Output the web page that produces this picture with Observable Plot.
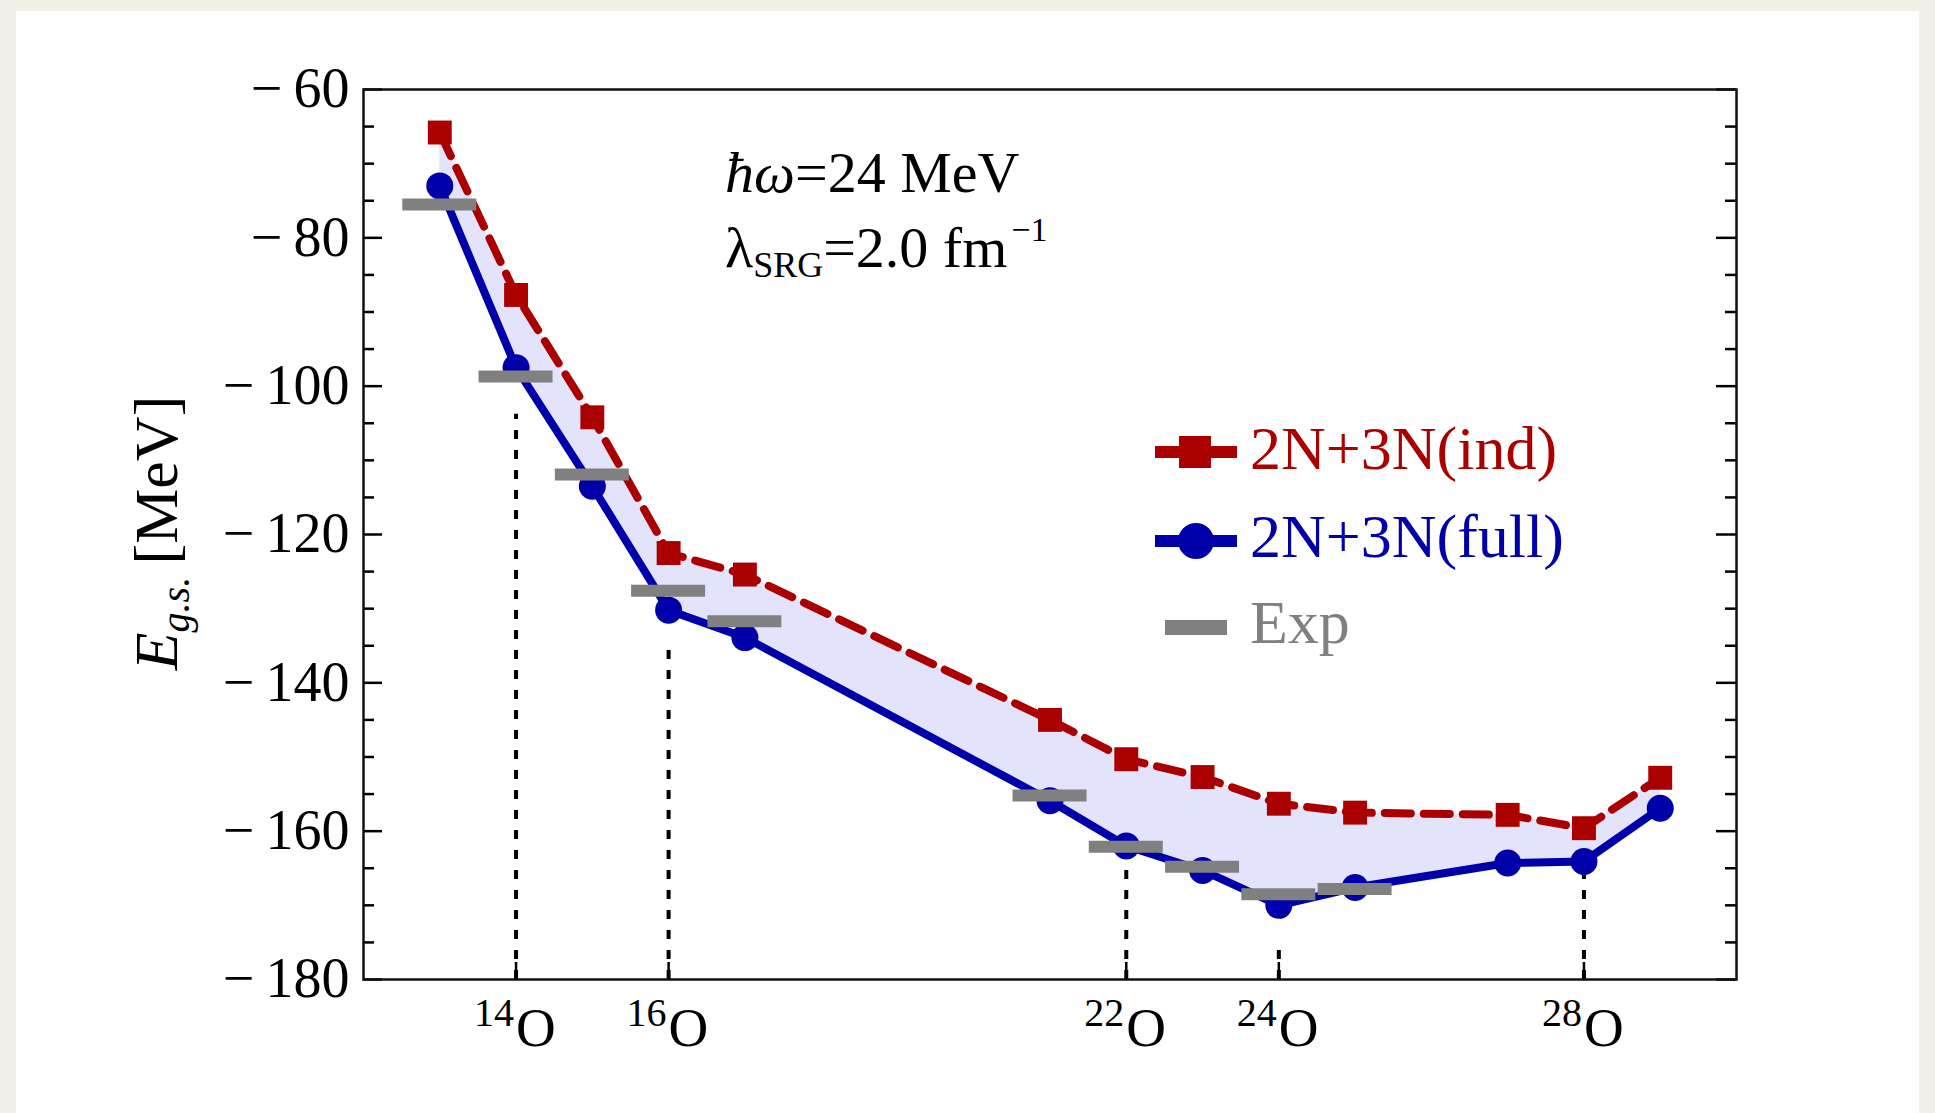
<!DOCTYPE html>
<html><head><meta charset="utf-8">
<script src="https://cdn.jsdelivr.net/npm/d3@7"></script>
<script src="https://cdn.jsdelivr.net/npm/@observablehq/plot@0.6"></script>
<style>
html,body{margin:0;padding:0;background:#f3f0ea;overflow:hidden}
#wrap{position:relative;width:1935px;height:1113px}
#panel{position:absolute;left:16px;top:11px;width:1903px;height:1102px;background:#fff}
#chart{position:absolute;left:0;top:0}
</style></head><body>
<div id="wrap"><div id="panel"></div><div id="chart"></div></div>
<script>
// ---- data ----
const massNumbers = [13, 14, 15, 16, 17, 21, 22, 23, 24, 25, 27, 28, 29];
const energyInd   = [-65.8, -87.7, -104.2, -122.5, -125.4, -145.0, -150.3, -152.7, -156.3, -157.5, -157.8, -159.6, -152.8];
const energyFull  = [-73.0, -97.5, -113.5, -130.2, -133.9, -155.9, -162.0, -165.3, -170.0, -167.6, -164.3, -164.1, -156.9];
const expMass     = [13, 14, 15, 16, 17, 21, 22, 23, 24, 25];
const expEnergy   = [-75.5, -98.7, -111.9, -127.6, -131.7, -155.2, -162.1, -164.8, -168.5, -167.8];
const labelMass   = [14, 16, 22, 24, 28];
const guideTop    = [-103.8, -134.9, -164.2, -174.8, -165.3];
const yMajor      = [-180, -160, -140, -120, -100, -80, -60];
const yMinor      = d3.range(-180, -59, 5).filter(v => !yMajor.includes(v));
const xDomain     = [12, 30];
const yDomain     = [-180, -60];
const seriesNames = ["2N+3N(ind)", "2N+3N(full)", "Exp"];

const RED = "#aa0000", BLUE = "#0000aa", GRAY = "#808080", FILL = "#e3e3fb";
const SERIF = "'Liberation Serif', 'Times New Roman', serif";

const theory = massNumbers.map((A, i) => ({A, ind: energyInd[i], full: energyFull[i]}));
const exp = expMass.map((A, i) => ({A, E: expEnergy[i]}));
const guides = labelMass.map((A, i) => ({A, top: guideTop[i]}));

const W = 1935, H = 1113, mL = 363, mR = 199, mT = 89, mB = 134;
const FW = W - mL - mR, FH = H - mT - mB;

const chart = Plot.plot({
  width: W, height: H,
  marginLeft: mL, marginRight: mR, marginTop: mT, marginBottom: mB,
  style: {fontFamily: SERIF, background: "transparent", color: "black", overflow: "visible"},
  x: {domain: xDomain, axis: null},
  y: {domain: yDomain, axis: null},
  marks: [
    Plot.areaY(theory, {x: "A", y1: "full", y2: "ind", fill: FILL}),
    Plot.ruleX(guides, {x: "A", y1: yDomain[0], y2: "top", stroke: "black", strokeWidth: 4, strokeDasharray: "9,11"}),
    Plot.line(theory, {x: "A", y: "ind", stroke: RED, strokeWidth: 8, strokeDasharray: "26,13"}),
    Plot.line(theory, {x: "A", y: "full", stroke: BLUE, strokeWidth: 8}),
    Plot.dot(theory, {x: "A", y: "ind", symbol: "square", r: 13.5, fill: RED}),
    Plot.dot(theory, {x: "A", y: "full", symbol: "circle", r: 13.5, fill: BLUE}),
    Plot.ruleY(exp, {y: "E", x1: d => d.A - 0.485, x2: d => d.A + 0.485, stroke: GRAY, strokeWidth: 12}),
    // ticks (inward)
    Plot.tickY(yMajor, {y: d => d, insetRight: FW - 19, stroke: "black", strokeWidth: 2.5}),
    Plot.tickY(yMinor, {y: d => d, insetRight: FW - 11, stroke: "black", strokeWidth: 2.5}),
    Plot.tickY(yMajor, {y: d => d, insetLeft: FW - 20, stroke: "black", strokeWidth: 2.5}),
    Plot.tickY(yMinor, {y: d => d, insetLeft: FW - 11, stroke: "black", strokeWidth: 2.5}),
    Plot.tickX(labelMass, {x: d => d, insetTop: FH - 17, stroke: "black", strokeWidth: 2.5}),
    Plot.axisY({ticks: yMajor, tickSize: 0, tickPadding: 14, fontSize: 56,
      tickFormat: d => (d < 0 ? "\u2212\u2009" : "") + Math.abs(d), label: null}),
    Plot.text(labelMass, {x: d => d, frameAnchor: "bottom", text: d => String(d), textAnchor: "end",
      lineAnchor: "bottom", dy: 46, dx: -2, fontSize: 40}),
    Plot.text(labelMass, {x: d => d, frameAnchor: "bottom", text: () => "O", textAnchor: "start",
      lineAnchor: "bottom", dy: 66, dx: 0, fontSize: 55}),
    Plot.frame({stroke: "#111", strokeWidth: 2.5})
  ]
});
document.getElementById("chart").appendChild(chart);

const svg = d3.select(chart);

// y axis label
const yl = svg.append("text")
  .attr("transform", "translate(177,533) rotate(-90)")
  .attr("text-anchor", "middle")
  .attr("font-family", SERIF).attr("font-size", 62).attr("fill", "black");
yl.append("tspan").attr("font-style", "italic").text("E");
yl.append("tspan").attr("font-style", "italic").attr("font-size", 40).attr("dy", 12).text("g.s.");
yl.append("tspan").attr("dy", -12).text("\u2009[MeV]");

// annotation
const a1 = svg.append("text").attr("x", 725).attr("y", 192).attr("text-anchor", "start")
  .attr("font-family", SERIF).attr("font-size", 58).attr("fill", "black");
a1.append("tspan").attr("font-style", "italic").text("\u0127\u03c9");
a1.append("tspan").text("=24 MeV");
const a2 = svg.append("text").attr("x", 725).attr("y", 267).attr("text-anchor", "start")
  .attr("font-family", SERIF).attr("font-size", 58).attr("fill", "black");
a2.append("tspan").text("\u03bb");
a2.append("tspan").attr("font-size", 36).attr("dy", 10).text("SRG");
a2.append("tspan").attr("dy", -10).text("=2.0 fm");
a2.append("tspan").attr("font-size", 34).attr("dy", -26).attr("dx", 4).text("\u22121");

// legend
const lg = svg.append("g").attr("font-family", SERIF).attr("font-size", 62).attr("text-anchor", "start");
// ind
lg.append("line").attr("x1", 1155).attr("x2", 1237).attr("y1", 452).attr("y2", 452).attr("stroke", RED).attr("stroke-width", 12);
lg.append("rect").attr("x", 1179).attr("y", 436).attr("width", 32).attr("height", 32).attr("fill", RED);
lg.append("text").attr("x", 1250).attr("y", 469).attr("fill", RED).text(seriesNames[0]);
// full
lg.append("line").attr("x1", 1155).attr("x2", 1237).attr("y1", 541).attr("y2", 541).attr("stroke", BLUE).attr("stroke-width", 12);
lg.append("circle").attr("cx", 1196).attr("cy", 541).attr("r", 18).attr("fill", BLUE);
lg.append("text").attr("x", 1250).attr("y", 557).attr("fill", BLUE).text(seriesNames[1]);
// exp
lg.append("rect").attr("x", 1165).attr("y", 620).attr("width", 62).attr("height", 15).attr("fill", GRAY);
lg.append("text").attr("x", 1250).attr("y", 643).attr("fill", GRAY).text(seriesNames[2]);
</script>
</body></html>
